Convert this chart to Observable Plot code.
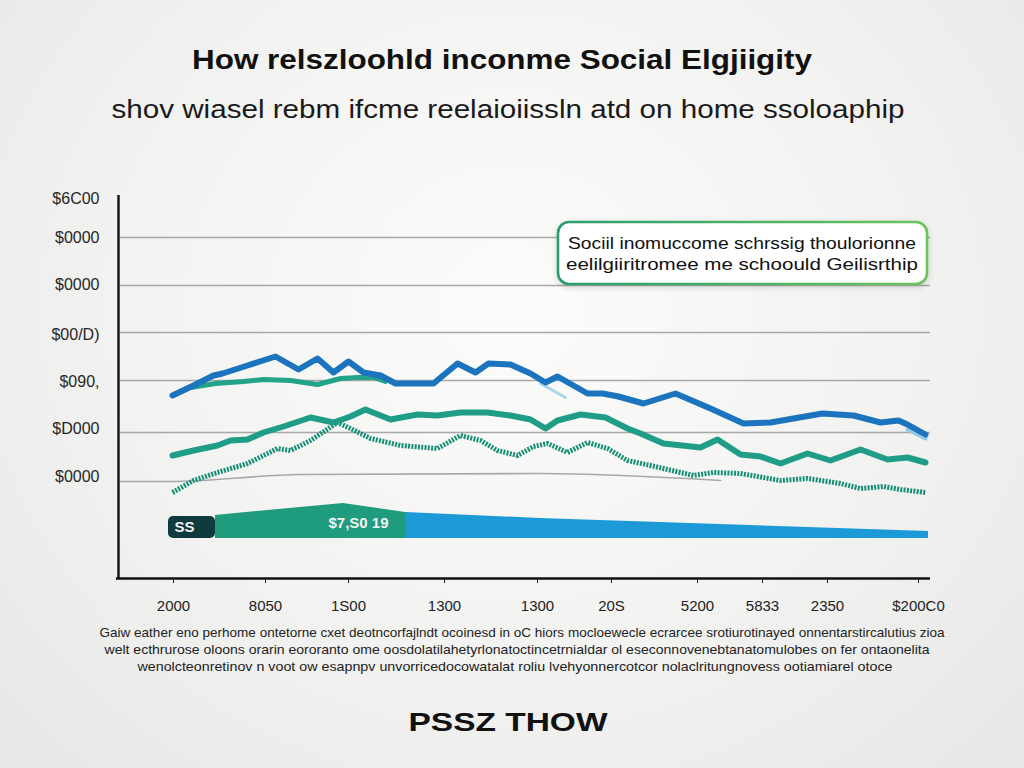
<!DOCTYPE html>
<html><head><meta charset="utf-8">
<script src="https://cdn.jsdelivr.net/npm/d3@7"></script>
<script src="https://cdn.jsdelivr.net/npm/@observablehq/plot@0.6"></script>
<style>
html,body{margin:0;padding:0;width:1024px;height:768px;overflow:hidden;}
body{background:radial-gradient(ellipse at 50% 40%,#fcfcfb 0%,#f2f2f0 55%,#e7e7e5 100%);font-family:"Liberation Sans",Arial,sans-serif;position:relative;}
#chart{position:absolute;left:0;top:180px;}
#overlay{position:absolute;left:0;top:0;pointer-events:none;}
</style></head><body>
<div id="chart"></div>
<svg id="overlay" width="1024" height="768"></svg>
<script>
// ---- texts ----
const titleText = "How relszloohld inconme Social Elgjiigity";
const subtitleText = "shov wiasel rebm ifcme reelaioiissln atd on home ssoloaphip";
const legendLines = ["Sociil inomuccome schrssig thoulorionne", "eelilgiiritromee me schoould Geilisrthip"];
const captionLines = [
  "Gaiw eather eno perhome ontetorne cxet deotncorfajlndt ocoinesd in oC hiors mocloewecle ecrarcee srotiurotinayed onnentarstircalutius zioa",
  "welt ecthrurose oloons orarin eororanto ome oosdolatilahetyrlonatoctincetrnialdar ol eseconnovenebtanatomulobes on fer ontaonelita",
  "wenolcteonretinov n voot ow esapnpv unvorricedocowatalat roliu lvehyonnercotcor nolaclritungnovess ootiamiarel otoce"
];
const footerText = "PSSZ THOW";

// ---- axes ----
const xTickValues = [55, 147, 230, 326, 419, 493, 579, 644, 709, 800];
const xTickLabels = ["2000", "8050", "1S00", "1300", "1300", "20S", "5200", "5833", "2350", "$200C0"];
const yTickValues = [7600, 6820, 5880, 4880, 3940, 3000, 2040];
const yTickLabels = ["$6C00", "$0000", "$0000", "$00/D)", "$090,", "$D000", "$0000"];
const gridValues = [6820, 5860, 4920, 3960, 2920];

// ---- series [x, value] ----
const blueLine = [[54,3660],[75,3860],[95,4060],[104,4100],[129,4260],[157,4440],[180,4180],[199,4400],[215,4120],[230,4340],[245,4120],[262,4060],[277,3900],[315,3900],[339,4300],[357,4120],[370,4300],[392,4280],[412,4100],[427,3920],[439,4040],[469,3700],[484,3700],[500,3640],[525,3500],[557,3700],[592,3400],[625,3100],[652,3120],[675,3200],[704,3300],[735,3260],[762,3120],[780,3160],[789,3080],[807,2880]];
const blueShadowA = [[422,3900],[447,3620]];
const blueShadowB = [[789,2980],[807,2800]];
const greenUpper = [[72,3820],[97,3900],[125,3940],[145,3980],[172,3960],[199,3880],[222,4000],[239,4020],[255,4020],[267,3940]];
const greenMiddle = [[54,2460],[75,2560],[99,2660],[112,2760],[129,2780],[145,2920],[165,3040],[192,3220],[215,3120],[232,3240],[247,3380],[272,3180],[299,3280],[319,3260],[342,3320],[369,3320],[392,3260],[412,3180],[427,3000],[439,3160],[462,3280],[487,3220],[509,3000],[522,2900],[545,2700],[582,2620],[599,2780],[622,2480],[642,2440],[662,2300],[689,2500],[712,2360],[742,2580],[769,2380],[789,2420],[807,2320]];
const dottedLine = [[54,1720],[75,1960],[99,2120],[129,2300],[159,2600],[172,2560],[192,2760],[219,3120],[232,3000],[252,2800],[282,2660],[319,2600],[342,2860],[362,2760],[379,2560],[399,2460],[415,2640],[429,2700],[449,2520],[469,2720],[489,2600],[509,2360],[532,2260],[562,2120],[575,2060],[595,2120],[622,2100],[662,1960],[689,2000],[722,1900],[742,1800],[765,1840],[782,1780],[807,1720]];
const grayLine = [[2,1940],[52,1940],[182,2080],[422,2100],[602,1960]];

// ---- bottom band ----
const bandBase = 800;
const bandDark = [[50, 97, 1240]];
const bandGreen = [[97,1260],[160,1380],[225,1500],[287,1320]];
const bandBlue = [[287,1320],[422,1200],[810,940]];
const bandLabels = [[66,1030,"SS"],[240,1100,"$7,S0 19"]];

const xLab = new Map(xTickValues.map((v,i)=>[v,xTickLabels[i]]));
const yLab = new Map(yTickValues.map((v,i)=>[v,yTickLabels[i]]));
const X = d=>d[0], Y = d=>d[1];

const plot = Plot.plot({
  width: 1024, height: 445,
  marginTop: 15, marginBottom: 47, marginLeft: 118, marginRight: 94,
  x: {domain: [0, 812]},
  y: {domain: [0, 7660]},
  style: {background: "transparent", fontFamily: "Liberation Sans, Arial, sans-serif", fontSize: "14px", overflow: "visible"},
  marks: [
    Plot.ruleY(gridValues, {x1: 2, x2: 812, stroke: "#a8a8a8", strokeWidth: 1.6}),
    Plot.line(grayLine, {x: X, y: Y, stroke: "#a8a8a8", strokeWidth: 1.6, curve: "monotone-x"}),
    Plot.areaY(bandGreen, {x: X, y1: bandBase, y2: Y, fill: "#1f9b7d"}),
    Plot.areaY(bandBlue, {x: X, y1: bandBase, y2: Y, fill: "#1b9ad7"}),
    Plot.rect(bandDark, {x1: d=>d[0], x2: d=>d[1], y1: bandBase, y2: d=>d[2], fill: "#0f3b3f", rx: 5}),
    Plot.text(bandLabels, {x: X, y: Y, text: d=>d[2], fill: "#f4f4f4", fontSize: 15, fontWeight: "bold"}),
    Plot.line(dottedLine, {x: X, y: Y, stroke: "#178f77", strokeWidth: 5, strokeDasharray: "2,1.3", strokeLinecap: "butt", strokeLinejoin: "miter"}),
    Plot.line(greenMiddle, {x: X, y: Y, stroke: "#1f9d86", strokeWidth: 6, strokeLinejoin: "round"}),
    Plot.line(greenUpper, {x: X, y: Y, stroke: "#22a38a", strokeWidth: 5, strokeLinejoin: "round"}),
    Plot.line(blueShadowA, {x: X, y: Y, stroke: "#a9d6ea", strokeWidth: 3}),
    Plot.line(blueShadowB, {x: X, y: Y, stroke: "#8fcbe8", strokeWidth: 4}),
    Plot.line(blueLine, {x: X, y: Y, stroke: "#1b74bd", strokeWidth: 6, strokeLinejoin: "round"}),
    Plot.ruleX([0], {y1: 0, y2: 7660, stroke: "#111", strokeWidth: 2.4}),
    Plot.ruleY([0], {x1: -2, x2: 812, stroke: "#111", strokeWidth: 2.4}),
    Plot.axisY({ticks: yTickValues, tickFormat: d=>yLab.get(d), tickSize: 0, tickPadding: 19, fontSize: 16, color: "#262626"}),
    Plot.axisX({ticks: xTickValues, tickFormat: d=>xLab.get(d), tickSize: 5, tickPadding: 17, fontSize: 15, color: "#222", fontFamily: "Liberation Sans Narrow, Liberation Sans, Arial, sans-serif"})
  ]
});
document.getElementById("chart").appendChild(plot);

// ---- overlay texts ----
const ov = d3.select("#overlay");
const defs = ov.append("defs");
const g = defs.append("linearGradient").attr("id","lgB").attr("x1","0").attr("x2","1");
g.append("stop").attr("offset","0").attr("stop-color","#2a9d6e");
g.append("stop").attr("offset","1").attr("stop-color","#6cc45c");
const f = defs.append("filter").attr("id","sh").attr("x","-10%").attr("y","-30%").attr("width","120%").attr("height","160%");
f.append("feDropShadow").attr("dx",0).attr("dy",2).attr("stdDeviation",3).attr("flood-color","#000").attr("flood-opacity",0.15);

function txt(s, x, y, size, weight, len, fill){
  ov.append("text").attr("x",x).attr("y",y).attr("text-anchor","middle")
    .attr("font-size",size).attr("font-weight",weight).attr("fill",fill||"#111")
    .attr("font-family","Liberation Sans, Arial, sans-serif")
    .attr("textLength",len).attr("lengthAdjust","spacingAndGlyphs").text(s);
}
txt(titleText, 502, 69, 27, "bold", 620);
txt(subtitleText, 508, 118, 26, "normal", 793, "#1a1a1a");
ov.append("rect").attr("x",558).attr("y",222).attr("width",369).attr("height",62).attr("rx",11)
  .attr("fill","#ffffff").attr("stroke","url(#lgB)").attr("stroke-width",2.6).attr("filter","url(#sh)");
txt(legendLines[0], 742, 249, 17, "normal", 348);
txt(legendLines[1], 742, 270, 17, "normal", 352);
txt(captionLines[0], 522, 637, 13, "normal", 845, "#222");
txt(captionLines[1], 517, 654, 13, "normal", 825, "#222");
txt(captionLines[2], 515, 671, 13, "normal", 755, "#222");
txt(footerText, 508, 731, 25, "bold", 199);
</script>
</body></html>
